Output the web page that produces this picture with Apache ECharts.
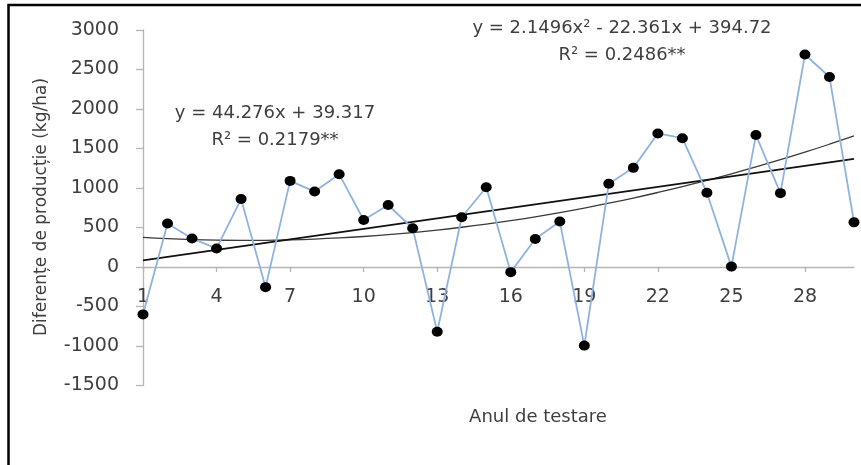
<!DOCTYPE html>
<html>
<head>
<meta charset="utf-8">
<script src="https://cdn.jsdelivr.net/npm/echarts@6/dist/echarts.min.js"></script>
<style>
html,body{margin:0;padding:0;background:#fff;}
#chart{width:861px;height:465px;}
</style>
</head>
<body>
<div id="chart"></div>
<script>
// ---- data ----
var years = [1,2,3,4,5,6,7,8,9,10,11,12,13,14,15,16,17,18,19,20,21,22,23,24,25,26,27,28,29,30];
var differences = [-600,550,360,235,860,-255,1090,955,1175,595,785,490,-820,630,1010,-65,355,575,-995,1055,1255,1690,1630,940,5,1670,935,2690,2405,565];
var xTickLabels = [1,4,7,10,13,16,19,22,25,28];
var yTicks = [-1500,-1000,-500,0,500,1000,1500,2000,2500,3000];
// trend equations as printed on the chart
var linCoef = {a: 44.276, b: 39.317};
var quadCoef = {a: 2.1496, b: -22.361, c: 394.72};
var linText = ['y = 44.276x + 39.317', 'R\u00B2 = 0.2179**'];
var quadText = ['y = 2.1496x\u00B2 - 22.361x + 394.72', 'R\u00B2 = 0.2486**'];
var xTitle = 'Anul de testare';
var yTitle = 'Diferențe de producție (kg/ha)';

var pts = years.map(function(x,i){return [x, differences[i]];});
var linPts = years.map(function(x){return [x, linCoef.a*x + linCoef.b];});
var quadPts = years.map(function(x){return [x, quadCoef.a*x*x + quadCoef.b*x + quadCoef.c];});

var FONT = 'DejaVu Sans';
var TXT = '#3f3f3f';
var GRID_TOP = 30, GRID_BOTTOM = 79.5, H = 465;
var yMin = yTicks[0], yMax = yTicks[yTicks.length-1];
var plotH = H - GRID_TOP - GRID_BOTTOM;
var zeroOffset = -plotH * (0 - yMin) / (yMax - yMin);

var chart = echarts.init(document.getElementById('chart'), null, {renderer:'canvas'});
chart.setOption({
  animation:false,
  backgroundColor:'#fff',
  grid:{left:143, right:7, top:GRID_TOP, bottom:GRID_BOTTOM, containLabel:false},
  xAxis:{
    type:'value', min:1, max:30, interval:3,
    position:'bottom', offset:zeroOffset,
    splitLine:{show:false},
    axisLine:{onZero:false, lineStyle:{color:'#b5b5b5', width:1.3}},
    axisTick:{show:true, inside:false, length:5, customValues:xTickLabels, lineStyle:{color:'#b5b5b5', width:1.3}},
    axisLabel:{customValues:xTickLabels, margin:21, color:TXT, fontFamily:FONT, fontSize:19,
      formatter:function(v){return String(v);}}
  },
  yAxis:{
    type:'value', min:yMin, max:yMax, interval:500,
    splitLine:{show:false},
    axisLine:{show:true, onZero:false, lineStyle:{color:'#b5b5b5', width:1.3}},
    axisTick:{show:true, length:7, lineStyle:{color:'#b5b5b5', width:1.3}},
    axisLabel:{margin:24, color:TXT, fontFamily:FONT, fontSize:19,
      formatter:function(v){return String(v);}}
  },
  series:[
    {type:'line', data:quadPts, smooth:true, symbol:'none', z:2,
      lineStyle:{color:'#3a3a3a', width:1.3}},
    {type:'line', data:linPts, symbol:'none', z:2,
      lineStyle:{color:'#111', width:1.8}},
    {type:'line', data:pts, z:3, symbol:'circle', symbolSize:[11,10],
      itemStyle:{color:'#000'}, lineStyle:{color:'#8fb3de', width:1.8}}
  ],
  graphic:[
    {type:'rect', shape:{x:8.5, y:5, width:900, height:500}, style:{fill:null, stroke:'#000', lineWidth:2.5}, silent:true},
    {type:'text', x:275, y:113, style:{text:linText[0], font:'18px "DejaVu Sans"', fill:TXT, align:'center', verticalAlign:'middle'}},
    {type:'text', x:275, y:140, style:{text:linText[1], font:'18px "DejaVu Sans"', fill:TXT, align:'center', verticalAlign:'middle'}},
    {type:'text', x:622, y:28, style:{text:quadText[0], font:'18px "DejaVu Sans"', fill:TXT, align:'center', verticalAlign:'middle'}},
    {type:'text', x:622, y:55, style:{text:quadText[1], font:'18px "DejaVu Sans"', fill:TXT, align:'center', verticalAlign:'middle'}},
    {type:'text', x:538, y:417, style:{text:xTitle, font:'18px "DejaVu Sans"', fill:TXT, align:'center', verticalAlign:'middle'}},
    {type:'text', x:42, y:207, rotation:Math.PI/2, style:{text:yTitle, font:'17px "DejaVu Sans"', fill:TXT, align:'center', verticalAlign:'middle'}}
  ]
});
</script>
</body>
</html>
